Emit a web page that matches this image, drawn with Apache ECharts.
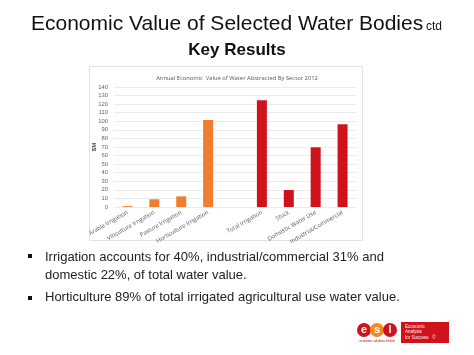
<!DOCTYPE html>
<html><head><meta charset="utf-8">
<script src="https://cdn.jsdelivr.net/npm/echarts@6/dist/echarts.min.js"></script>
<style>html,body{margin:0;padding:0;background:#fff;}#c{width:474px;height:355px;}</style>
</head><body><div id="c"></div>
<script>
const categories = ["Arable Irrigation","Viticulture Irrigation","Pasture Irrigation","Horticulture Irrigation","","Total Irrigation","Stock","Domestic Water Use","Industrial/Commercial"];
const irrigationValues = [1, 9, 12.4, 101.5, null, null, null, null, null];
const sectorValues = [null, null, null, null, null, 124.5, 19.8, 69.6, 96.5];
const yTicks = [0,10,20,30,40,50,60,70,80,90,100,110,120,130,140];
const slideTitle = "Economic Value of Selected Water Bodies";
const slideTitleSuffix = "ctd";
const slideSubtitle = "Key Results";
const chartTitle = "Annual Economic  Value of Water Abstracted By Sector 2012";
const bullets = ["Irrigation accounts for 40%, industrial/commercial 31% and\ndomestic 22%, of total water value.","Horticulture 89% of total irrigated agricultural use water value."];

const chart = echarts.init(document.getElementById('c'), null, {renderer:'canvas'});
const F = '"Liberation Sans", Arial, sans-serif';
chart.setOption({
  animation:false,
  backgroundColor:'#fff',
  grid:{left:114,right:118,top:87,bottom:148,containLabel:false},
  xAxis:{type:'category',data:categories,
    axisLine:{show:false},axisTick:{show:false},
    axisLabel:{interval:0,rotate:30,fontSize:5.8,color:'#555',fontFamily:'"Open Sans", sans-serif',margin:5}},
  yAxis:{type:'value',min:yTicks[0],max:yTicks[yTicks.length-1],interval:10,
    name:'$M',nameLocation:'middle',nameGap:17,nameRotate:90,nameMoveOverlap:false,
    nameTextStyle:{fontSize:6,color:'#444',fontWeight:'bold'},
    axisLine:{show:false},axisTick:{show:false},
    axisLabel:{fontSize:5.8,color:'#666',margin:6},
    splitLine:{lineStyle:{color:'#e6e6e6',width:0.8}}},
  series:[
    {type:'bar',data:irrigationValues,barWidth:10,barGap:'-100%',itemStyle:{color:'#EF7F2E'}},
    {type:'bar',data:sectorValues,barWidth:10,itemStyle:{color:'#D0121C'}}
  ],
  graphic:[
    {type:'rect',shape:{x:89.5,y:66.5,width:273,height:174},style:{fill:'none',stroke:'#e2e2e2',lineWidth:1},z:-1},
    {type:'text',x:237,y:78,style:{text:chartTitle,font:'5.8px "Open Sans", sans-serif',fill:'#555',textAlign:'center',textVerticalAlign:'middle'}},
    {type:'text',x:31,y:24,style:{text:slideTitle,font:'21px '+F,fill:'#111',textVerticalAlign:'middle'}},
    {type:'text',x:426,y:27,style:{text:slideTitleSuffix,font:'12px '+F,fill:'#111',textVerticalAlign:'middle'}},
    {type:'text',x:237,y:50,style:{text:slideSubtitle,font:'bold 17px '+F,fill:'#111',textAlign:'center',textVerticalAlign:'middle'}},
    {type:'rect',shape:{x:28,y:254,width:4,height:4},style:{fill:'#111'}},
    {type:'text',x:45,y:248,style:{text:bullets[0],font:'13px '+F,fill:'#222',lineHeight:18}},
    {type:'rect',shape:{x:28,y:296,width:4,height:4},style:{fill:'#111'}},
    {type:'text',x:45,y:291,style:{text:bullets[1],font:'13px '+F,fill:'#222'}},
    {type:'circle',shape:{cx:364,cy:330,r:7},style:{fill:'#D0121C'}},
    {type:'circle',shape:{cx:377,cy:330,r:7},style:{fill:'#F08A20'}},
    {type:'circle',shape:{cx:390,cy:330,r:7},style:{fill:'#D0121C'}},
    {type:'text',x:364,y:330,style:{text:'e',font:'bold 11px '+F,fill:'#fff',textAlign:'center',textVerticalAlign:'middle'}},
    {type:'text',x:377,y:330,style:{text:'s',font:'bold 11px '+F,fill:'#fff',textAlign:'center',textVerticalAlign:'middle'}},
    {type:'text',x:390,y:330,style:{text:'l',font:'bold 11px '+F,fill:'#fff',textAlign:'center',textVerticalAlign:'middle'}},
    {type:'text',x:377,y:341,style:{text:'economic solutions limited',font:'3px '+F,fill:'#C00',textAlign:'center',textVerticalAlign:'middle'}},
    {type:'rect',shape:{x:401,y:322,width:48,height:21},style:{fill:'#D0121C'}},
    {type:'text',x:405,y:324,style:{text:'Economic\nAnalysis\nfor Success   ©',font:'4.5px '+F,fill:'#fff',lineHeight:5.5}}
  ]
});
</script></body></html>
